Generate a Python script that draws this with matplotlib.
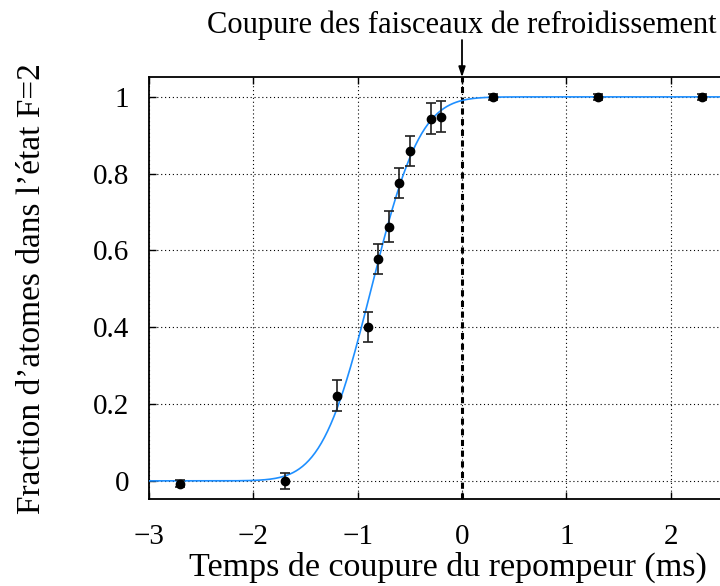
import math
import numpy as np
import matplotlib
matplotlib.use("Agg")
import matplotlib.pyplot as plt
from matplotlib.transforms import blended_transform_factory

plt.rcParams['font.family'] = ['Liberation Serif', 'DejaVu Serif']

# mesures : temps de coupure du repompeur (ms), fraction dans F=2, barres d'erreur
temps = [-2.7, -1.7, -1.2, -0.9, -0.8, -0.7, -0.6, -0.5, -0.3, -0.2, 0.3, 1.3, 2.3]
fraction = [-0.007, 0.0, 0.222, 0.401, 0.578, 0.662, 0.776, 0.859, 0.943, 0.948, 1.0, 1.0, 1.0]
erreur = [0.01, 0.02, 0.04, 0.04, 0.04, 0.04, 0.04, 0.04, 0.04, 0.04, 0.008, 0.008, 0.008]

# ajustement par une fonction erreur
centre = -0.87
largeur = 0.37

xticks = [-3, -2, -1, 0, 1, 2]
xticklabels = ['\u22123', '\u22122', '\u22121', '0', '1', '2']
yticks = [0, 0.2, 0.4, 0.6, 0.8, 1]
yticklabels = ['0', '0.2', '0.4', '0.6', '0.8', '1']

fig = plt.figure(figsize=(7.2, 5.86), dpi=100)
ax = fig.add_axes([148.8 / 720, 86.7 / 586, 626.4 / 720, 422.0 / 586])

xs = np.linspace(-3, 3, 600)
ys = np.array([0.5 * (1 + math.erf((v - centre) / (largeur * math.sqrt(2)))) for v in xs])
ax.plot(xs, ys, color='#1e8fff', lw=1.2, zorder=3)

ax.errorbar(temps, fraction, yerr=erreur, fmt='o', color='black', ms=6,
            ecolor='#202020', elinewidth=1.2, capsize=3.5, capthick=1.2, zorder=4)

ax.axvline(0, color='black', lw=2.2, ls=(0, (2, 1.5)), zorder=2)

ax.set_xlim(-3, 3)
ax.set_ylim(-0.048, 1.051)
ax.set_xticks(xticks)
ax.set_xticklabels(xticklabels)
ax.set_yticks(yticks)
ax.set_yticklabels(yticklabels)
ax.tick_params(direction='in', top=True, right=True, length=5, width=1,
               labelsize=21)
ax.tick_params(axis='y', pad=14)
ax.tick_params(axis='x', pad=18)
ax.grid(True, color='black', ls=(0, (1, 2.5)), lw=0.8)
for s in ax.spines.values():
    s.set_linewidth(1.3)

ax.set_xlabel('Temps de coupure du repompeur (ms)', fontsize=24.5, labelpad=1)
ax.xaxis.label.set_x(0.478)
ax.set_ylabel('Fraction d\u2019atomes dans l\u2019état F=2', fontsize=24, labelpad=33)

haut = blended_transform_factory(ax.transData, fig.transFigure)
ax.annotate('', xy=(0, 1.051), xycoords='data', xytext=(0, 1 - 40 / 586),
            textcoords=haut,
            arrowprops=dict(arrowstyle='-|>,head_length=0.6,head_width=0.2',
                            color='black', lw=1.3, shrinkA=0, shrinkB=0))
ax.text(0, 1 - 33 / 586, 'Coupure des faisceaux de refroidissement',
        transform=haut, ha='center', va='baseline', fontsize=22)

fig.savefig('out.png', dpi=100)
